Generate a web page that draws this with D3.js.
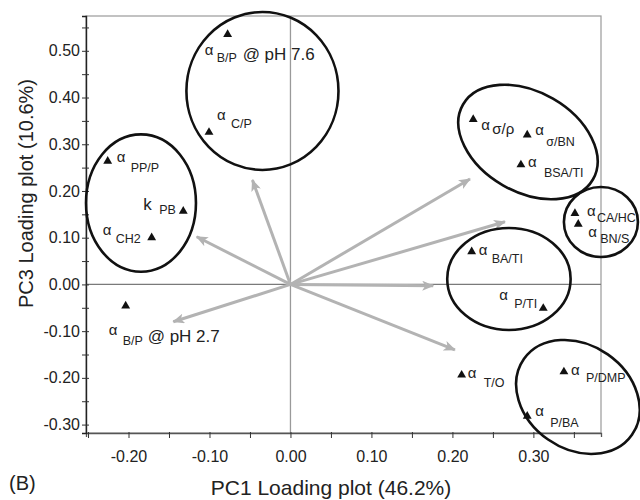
<!DOCTYPE html>
<html>
<head>
<meta charset="utf-8">
<script src="https://cdn.jsdelivr.net/npm/d3@7"></script>
<style>
  body { margin: 0; background: #fff; }
  svg { font-family: "Liberation Sans", Arial, Helvetica, sans-serif; }
</style>
</head>
<body>
<svg id="chart" width="640" height="500"></svg>
<script>
// loadings (PC1, PC3)
const pointNames = ["bp76", "cp", "ppp", "kpb", "ch2", "bp27", "sr", "sbn", "bsa", "cahc", "bns", "bati", "pti", "to", "pdmp", "pba"];
const pointPC1 = [-0.0776, -0.1006, -0.2257, -0.1324, -0.1714, -0.2035, 0.2257, 0.2924, 0.2846, 0.3513, 0.3554, 0.2238, 0.3122, 0.2114, 0.3377, 0.2924];
const pointPC3 = [0.535, 0.3256, 0.264, 0.157, 0.100, -0.046, 0.353, 0.320, 0.256, 0.152, 0.129, 0.070, -0.051, -0.194, -0.187, -0.282];
const pointLead = ["α", "α", "α", "k", "α", "α", "α", "α", "α", "α", "α", "α", "α", "α", "α", "α"];
const pointSub = ["B/P", "C/P", "PP/P", "PB", "CH2", "B/P", "σ/ρ", "σ/BN", "BSA/TI", "CA/HC", "BN/S", "BA/TI", "P/TI", "T/O", "P/DMP", "P/BA"];
const pointSuffix = ["@ pH 7.6", "", "", "", "", "@ pH 2.7", "", "", "", "", "", "", "", "", "", ""];

// arrow tips (from origin)
const arrowPC1 = [-0.047, -0.1158, -0.1447, 0.1763, 0.2031, 0.2217, 0.2649];
const arrowPC3 = [0.2235, 0.102, -0.080, -0.003, -0.140, 0.2256, 0.134];

// group ellipses: centre, radii, tilt
const ellCX = [-0.0346, -0.1846, 0.2933, 0.3834, 0.2698, 0.355];
const ellCY = [0.414, 0.1742, 0.3048, 0.1336, 0.0116, -0.2408];
const ellRX = [0.0939, 0.0679, 0.0926, 0.0457, 0.0762, 0.0815];
const ellRY = [0.169, 0.147, 0.107, 0.0749, 0.1092, 0.1113];
const ellTilt = [0, 0, 30, 0, 0, 35];

const xTicks = [-0.25, -0.20, -0.15, -0.10, -0.05, 0.00, 0.05, 0.10, 0.15, 0.20, 0.25, 0.30, 0.35];
const yTicks = [-0.30, -0.25, -0.20, -0.15, -0.10, -0.05, 0.00, 0.05, 0.10, 0.15, 0.20, 0.25, 0.30, 0.35, 0.40, 0.45, 0.50, 0.55];

// label placement, pixel offsets from the marker: [leadX, leadY, subX, subY, sufX, sufY]
const labelPos = {
  bp76: [-23, 21, -11, 28, 15, 26],
  cp: [8, -12, 22, -4],
  ppp: [9, 1, 23, 11],
  kpb: [-40, -1, -24, 3],
  ch2: [-49, -3, -36, 5],
  bp27: [-17, 29, -3, 39, 22, 36],
  sr: [8, 11, 19, 15],
  sbn: [8, 0, 19, 11],
  bsa: [7, 2, 23, 12],
  cahc: [12, 3, 22, 9],
  bns: [10, 13, 22, 19],
  bati: [7, 3, 20, 11],
  pti: [-44, -8, -29, 0],
  to: [6, 3, 22, 12],
  pdmp: [7, 3, 22, 10],
  pba: [8, 0, 23, 11]
};

const svg = d3.select("#chart");
const x = d3.scaleLinear().domain([-0.2525, 0.3835]).range([86, 601]);
const y = d3.scaleLinear().domain([-0.318, 0.5745]).range([433, 16]);
const fmt = d3.format(".2f");
const isMajor = v => Math.abs(Math.round(v * 10) - v * 10) < 1e-6;
const tickText = d => isMajor(d) ? fmt(d).replace("−", "-") : "";

// frame
svg.append("rect")
  .attr("x", x.range()[0]).attr("y", y.range()[1])
  .attr("width", x.range()[1] - x.range()[0])
  .attr("height", y.range()[0] - y.range()[1])
  .attr("fill", "none").attr("stroke", "#9a9a9a").attr("stroke-width", 1.2);

// zero lines
svg.append("line")
  .attr("x1", x(0)).attr("x2", x(0))
  .attr("y1", y.range()[1]).attr("y2", y.range()[0])
  .attr("stroke", "#9a9a9a").attr("stroke-width", 1.3);
svg.append("line")
  .attr("x1", x.range()[0]).attr("x2", x.range()[1])
  .attr("y1", y(0)).attr("y2", y(0))
  .attr("stroke", "#7a7a7a").attr("stroke-width", 1.2);

// axes
const xAxis = svg.append("g")
  .attr("transform", `translate(0,${y.range()[0]})`)
  .call(d3.axisBottom(x).tickValues(xTicks).tickSize(4).tickPadding(13.5).tickFormat(tickText));
xAxis.select(".domain").attr("stroke", "#555").attr("stroke-width", 1.3);
xAxis.selectAll(".tick line").attr("y1", -1).attr("y2", 5).attr("stroke", "#333");
xAxis.selectAll("text").attr("font-size", 16).attr("fill", "#222");

const yAxis = svg.append("g")
  .attr("transform", `translate(${x.range()[0]},0)`)
  .call(d3.axisLeft(y).tickValues(yTicks).tickSize(4).tickPadding(2).tickFormat(tickText));
yAxis.select(".domain").attr("stroke", "#222").attr("stroke-width", 1.4);
yAxis.selectAll(".tick line").attr("x1", 3).attr("x2", -4).attr("stroke", "#333");
yAxis.selectAll("text").attr("font-size", 16).attr("fill", "#222");
[xAxis, yAxis].forEach(g => g.attr("font-family", null));

// arrows
svg.append("defs").append("marker")
  .attr("id", "head")
  .attr("markerUnits", "userSpaceOnUse")
  .attr("viewBox", "0 0 12 10")
  .attr("refX", 11).attr("refY", 5)
  .attr("markerWidth", 13).attr("markerHeight", 10)
  .attr("orient", "auto")
  .append("path")
  .attr("d", "M0,0 L12,5 L0,10 L3,5 Z")
  .attr("fill", "#b3b3b3");

svg.append("g").selectAll("line")
  .data(d3.range(arrowPC1.length))
  .join("line")
  .attr("x1", x(0)).attr("y1", y(0))
  .attr("x2", i => x(arrowPC1[i])).attr("y2", i => y(arrowPC3[i]))
  .attr("stroke", "#b3b3b3").attr("stroke-width", 3)
  .attr("marker-end", "url(#head)");

// ellipses
svg.append("g").selectAll("ellipse")
  .data(d3.range(ellCX.length))
  .join("ellipse")
  .attr("cx", 0).attr("cy", 0)
  .attr("rx", i => x(ellCX[i] + ellRX[i]) - x(ellCX[i]))
  .attr("ry", i => y(ellCY[i]) - y(ellCY[i] + ellRY[i]))
  .attr("transform", i => `translate(${x(ellCX[i])},${y(ellCY[i])}) rotate(${ellTilt[i]})`)
  .attr("fill", "none").attr("stroke", "#111").attr("stroke-width", 2.6);

// points
const tri = d3.symbol(d3.symbolTriangle, 34);
svg.append("g").selectAll("path")
  .data(d3.range(pointNames.length))
  .join("path")
  .attr("d", tri)
  .attr("transform", i => `translate(${x(pointPC1[i])},${y(pointPC3[i])})`)
  .attr("fill", "#111");

// labels
const lab = svg.append("g").attr("fill", "#222");
pointNames.forEach((name, i) => {
  const px = x(pointPC1[i]), py = y(pointPC3[i]);
  const p = labelPos[name];
  lab.append("text")
    .attr("x", px + p[0]).attr("y", py + p[1])
    .attr("font-size", pointLead[i] === "k" ? 17 : 15)
    .text(pointLead[i]);
  lab.append("text")
    .attr("x", px + p[2]).attr("y", py + p[3])
    .attr("font-size", name === "sr" ? 15 : 12.5)
    .text(pointSub[i]);
  if (pointSuffix[i]) {
    lab.append("text")
      .attr("x", px + p[4]).attr("y", py + p[5])
      .attr("font-size", 17)
      .text(pointSuffix[i]);
  }
});

// titles
svg.append("text")
  .attr("x", 331).attr("y", 495)
  .attr("text-anchor", "middle").attr("font-size", 21).attr("fill", "#222")
  .text("PC1 Loading plot (46.2%)");
svg.append("text")
  .attr("transform", `translate(33,${(y.range()[0] + y.range()[1]) / 2 - 31}) rotate(-90)`)
  .attr("text-anchor", "middle").attr("font-size", 20).attr("fill", "#222")
  .text("PC3 Loading plot (10.6%)");
svg.append("text")
  .attr("x", 9).attr("y", 490)
  .attr("font-size", 20).attr("fill", "#222")
  .text("(B)");
</script>
</body>
</html>
